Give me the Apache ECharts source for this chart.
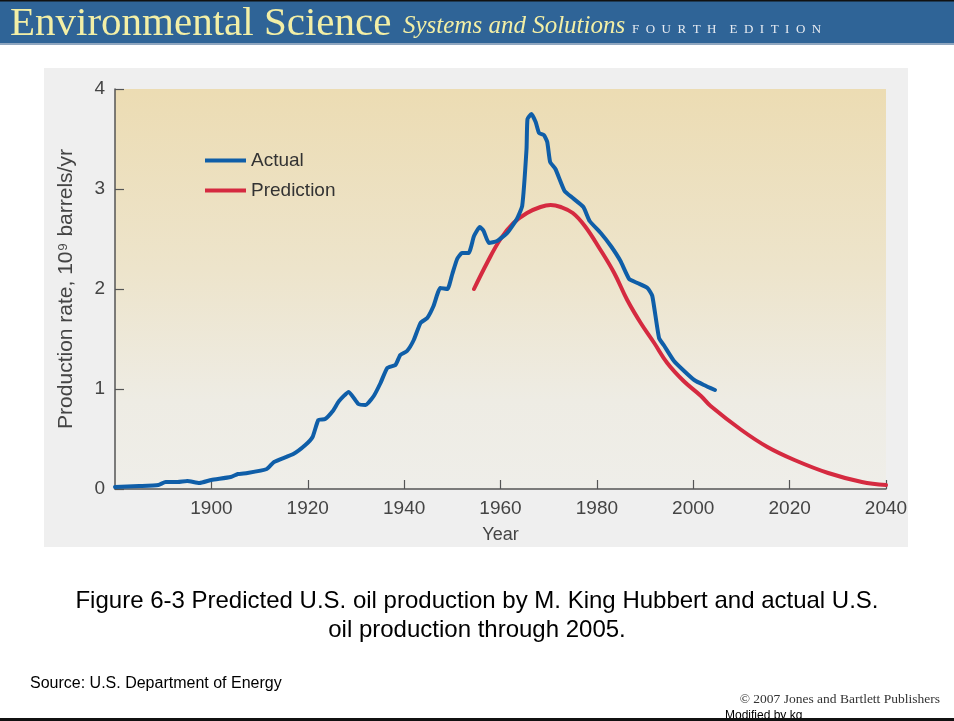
<!DOCTYPE html>
<html>
<head>
<meta charset="utf-8">
<script src="https://cdn.jsdelivr.net/npm/echarts@6/dist/echarts.min.js"></script>
<style>
html,body{margin:0;padding:0;background:#ffffff;}
#chart{width:954px;height:721px;}
</style>
</head>
<body>
<div id="chart"></div>
<script>
// ---- Data ----
const actualYears = [1880,1885,1889,1890.5,1893,1895,1897.5,1900,1904,1905.5,1907.5,1911.5,1913,1917,1919.5,1921,1922.2,1923.6,1925.2,1926.5,1928.5,1930.5,1932,1933.7,1935.1,1936.5,1938.2,1939.2,1940.6,1942,1943.4,1944.8,1946.1,1947.5,1949,1950,1951,1952,1953.4,1954.5,1955.7,1956.5,1957.6,1959.3,1961.4,1963.4,1964.5,1965.4,1965.6,1966.4,1967.3,1968,1969,1969.7,1970.3,1971.4,1973.3,1975,1977.2,1978.5,1980.8,1982.9,1984.9,1986.7,1988.4,1990.5,1991.5,1992.9,1994,1996,1998.1,2000.2,2002.2,2004.5];
const actualValues = [0.02,0.03,0.04,0.07,0.07,0.08,0.06,0.09,0.12,0.15,0.16,0.20,0.27,0.35,0.44,0.52,0.69,0.70,0.78,0.88,0.97,0.85,0.84,0.93,1.06,1.21,1.24,1.34,1.38,1.49,1.66,1.71,1.83,2.01,2.00,2.15,2.30,2.36,2.36,2.53,2.62,2.58,2.46,2.48,2.56,2.70,2.83,3.40,3.70,3.75,3.67,3.56,3.54,3.47,3.27,3.20,2.98,2.91,2.82,2.68,2.56,2.43,2.28,2.10,2.06,2.01,1.93,1.51,1.43,1.28,1.18,1.09,1.04,0.99];
const predYears = [1954.5,1957.2,1960,1962.7,1965.5,1968.3,1970.4,1972.5,1975,1977.5,1980.5,1983.6,1986.3,1989.1,1991.9,1994.6,1998,2001.6,2003.6,2010,2015.4,2021,2028,2035,2040];
const predValues = [2.00,2.26,2.50,2.66,2.76,2.82,2.84,2.82,2.76,2.63,2.41,2.16,1.89,1.66,1.46,1.26,1.08,0.93,0.83,0.59,0.42,0.29,0.16,0.07,0.04];
const seriesNames = ['Actual','Prediction'];
const xTicks = {min:1880, max:2040, interval:20};
const yTicks = {min:0, max:4, interval:1};

const zip = (xs, ys) => xs.map((x,i)=>[x, ys[i]]);
const sans = '"Liberation Sans", Arial, Helvetica, sans-serif';
const serif = '"Liberation Serif", "Times New Roman", serif';

const chart = echarts.init(document.getElementById('chart'), null, {renderer:'canvas'});
chart.setOption({
  animation:false,
  backgroundColor:'#ffffff',
  graphic:[
    {type:'rect', z:-10, shape:{x:44,y:68,width:864,height:479}, style:{fill:'#efefef'}},
    {type:'rect', z:-10, shape:{x:0,y:0,width:954,height:45}, style:{fill:'#2f6497'}},
    {type:'rect', z:-9, shape:{x:0,y:0,width:954,height:1.5}, style:{fill:'#111111'}},
    {type:'rect', z:-9, shape:{x:0,y:43,width:954,height:2}, style:{fill:'#8fa6bf'}},
    {type:'text', x:10, y:4, style:{text:'Environmental Science', font:'41px '+serif, fill:'#f3efa6', verticalAlign:'top'}},
    {type:'text', x:403, y:14, style:{text:'Systems and Solutions', font:'italic 25px '+serif, fill:'#f3efa6', verticalAlign:'top'}},
    {type:'text', x:632, y:23, style:{text:'F  O  U  R  T  H    E  D  I  T  I  O  N', font:'13px '+serif, fill:'#e8ecf2', verticalAlign:'top'}},
    {type:'text', x:477, y:587, style:{text:'Figure 6-3 Predicted U.S. oil production by M. King Hubbert and actual U.S.\noil production through 2005.', font:'24px '+sans, fill:'#000000', align:'center', lineHeight:29}},
    {type:'text', x:30, y:676, style:{text:'Source: U.S. Department of Energy', font:'16px '+sans, fill:'#000000'}},
    {type:'text', x:940, y:692, style:{text:'\u00a9 2007 Jones and Bartlett Publishers', font:'13.5px '+serif, fill:'#333333', align:'right'}},
    {type:'text', x:725, y:710, style:{text:'Modified by kg', font:'12px '+sans, fill:'#000000'}},
    {type:'rect', z:10, shape:{x:0,y:718,width:954,height:3}, style:{fill:'#111111'}}
  ],
  grid:{
    left:115, right:68, top:89, bottom:232, show:true, borderWidth:0,
    backgroundColor:new echarts.graphic.LinearGradient(0,0,0,1,[
      {offset:0,color:'#ecdcb3'},
      {offset:0.45,color:'#ede4cb'},
      {offset:0.78,color:'#eeece4'},
      {offset:1,color:'#efeee9'}
    ])
  },
  legend:{
    orient:'vertical', left:200, top:146, itemWidth:41, itemHeight:4, itemGap:11,
    icon:'rect', data:seriesNames,
    textStyle:{fontFamily:sans, fontSize:19, color:'#333333'}
  },
  xAxis:{
    type:'value', min:xTicks.min, max:xTicks.max, interval:xTicks.interval,
    name:'Year', nameLocation:'middle', nameGap:37,
    nameTextStyle:{fontFamily:sans, fontSize:18, color:'#444444'},
    axisLine:{show:true, lineStyle:{color:'#555555', width:1.5}},
    axisTick:{show:true, inside:true, length:9, lineStyle:{color:'#555555', width:1.2}},
    axisLabel:{showMinLabel:false, margin:10, fontFamily:sans, fontSize:19, color:'#444444', formatter:(v)=>String(v)},
    splitLine:{show:false}
  },
  yAxis:{
    type:'value', min:yTicks.min, max:yTicks.max, interval:yTicks.interval,
    name:'Production rate, 10\u2079 barrels/yr', nameLocation:'middle', nameGap:38,
    nameTextStyle:{fontFamily:sans, fontSize:21, color:'#444444'},
    axisLine:{show:true, lineStyle:{color:'#555555', width:1.5}},
    axisTick:{show:true, inside:true, length:9, lineStyle:{color:'#555555', width:1.2}},
    axisLabel:{margin:10, fontFamily:sans, fontSize:19, color:'#444444', formatter:(v)=>String(v)},
    splitLine:{show:false}
  },
  series:[
    {name:seriesNames[0], type:'line', data:zip(actualYears, actualValues), showSymbol:false, symbol:'none',
     smooth:0.15, color:'#0f5ea8', lineStyle:{width:4, color:'#0f5ea8', cap:'round', join:'round'}, z:3},
    {name:seriesNames[1], type:'line', data:zip(predYears, predValues), showSymbol:false, symbol:'none',
     smooth:0.4, color:'#d52a40', lineStyle:{width:4, color:'#d52a40', cap:'round', join:'round'}, z:2}
  ]
});
</script>
</body>
</html>
